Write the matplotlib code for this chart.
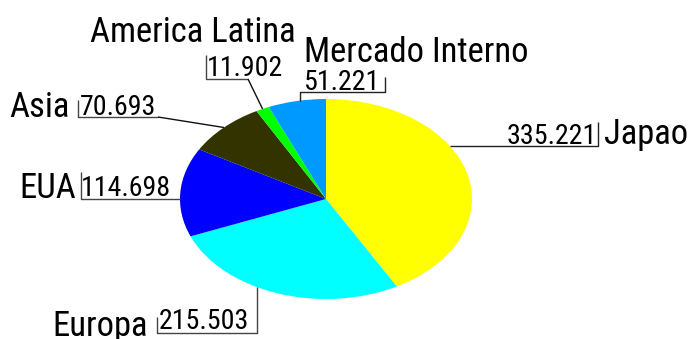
import matplotlib
matplotlib.use("Agg")
import matplotlib.pyplot as plt
from matplotlib import font_manager
from matplotlib.font_manager import FontProperties
import numpy as np

labels = ["Japao", "Europa", "EUA", "Asia", "America Latina", "Mercado Interno"]
values = [335.221, 215.503, 114.698, 70.693, 11.902, 51.221]
value_text = ["335.221", "215.503", "114.698", "70.693", "11.902", "51.221"]
colors = ["#FFFF00", "#00FFFF", "#0000FF", "#333300", "#00FF00", "#0099FF"]

# pick a condensed font if one is installed
files = [f.fname for f in font_manager.fontManager.ttflist]
pref = ["RobotoCondensed-Regular", "Roboto_Condensed-Regular", "RobotoCondensed-Light",
        "Roboto_Condensed-Light", "LiberationSansNarrow-Regular", "DejaVuSansCondensed.",
        "OpenSans_Condensed-Regular", "OpenSans_Condensed-Light"]
chosen = None
for p in pref:
    for fn in files:
        if p.lower() in fn.lower():
            chosen = fn
            break
    if chosen:
        break
FP = FontProperties(fname=chosen) if chosen else FontProperties(family="DejaVu Sans")

W, H = 689, 339
fig = plt.figure(figsize=(W / 100, H / 100), dpi=100)

x0, y0, x1, y1 = 180, 99, 472, 299
ax = fig.add_axes([x0 / W, (H - y1) / H, (x1 - x0) / W, (y1 - y0) / H])
ax.pie(values, colors=colors, startangle=90, counterclock=False, radius=1,
       wedgeprops=dict(linewidth=0))
ax.set_aspect("auto")
ax.set_xlim(-1, 1)
ax.set_ylim(-1, 1)
ax.axis("off")

ov = fig.add_axes([0, 0, 1, 1], zorder=5)
ov.set_xlim(0, W)
ov.set_ylim(H, 0)
ov.axis("off")
ov.patch.set_alpha(0)

cx, cy = (x0 + x1) / 2, (y0 + y1) / 2
rx, ry = (x1 - x0) / 2, (y1 - y0) / 2

def ellipse_x(y, side):
    return cx + side * rx * np.sqrt(max(0.0, 1 - ((y - cy) / ry) ** 2))

def ellipse_y(x, side):
    return cy + side * ry * np.sqrt(max(0.0, 1 - ((x - cx) / rx) ** 2))

total = sum(values)
mids = []
start = 90.0
for v in values:
    span = 360 * v / total
    mids.append(start - span / 2)
    start -= span

def mid_point(i):
    a = np.deg2rad(mids[i])
    return cx + rx * np.cos(a), cy - ry * np.sin(a)

# fit font sizes to reference text widths (pixels)
renderer = fig.canvas.get_renderer()
def width_at10(s):
    t = ov.text(0, 0, s, fontproperties=FP, fontsize=10)
    w = t.get_window_extent(renderer).width
    t.remove()
    return w

label_w = [79, 92, 56, 57, 192, 212]
num_w = [84, 84, 77, 76, 61, 60]
LS = 1.05 * 10 * sum(label_w) / sum(width_at10(s) for s in labels)
NS = 1.12 * 10 * sum(num_w) / sum(width_at10(s) for s in value_text)
LS = min(LS, 27)
NS = min(NS, 26)

LC = "#444444"
lw = 1.0

def line(xs, ys, c=LC):
    ov.plot(xs, ys, color=c, lw=lw, solid_capstyle="butt")

def txt(x, y, s, size, ha):
    ov.text(x, y, s, fontproperties=FP, fontsize=size, ha=ha, va="baseline", color="black")

# Japao
yb = 146
line([ellipse_x(yb, 1), 598, 598], [yb, yb, 122], c="#222222")
txt(597, 144, value_text[0], NS, "right")
txt(604, 144, labels[0], LS, "left")

# Europa
line([157, 157, 257, 257], [317, 333, 333, ellipse_y(257, 1)])
txt(159, 329, value_text[1], NS, "left")
txt(52, 336, labels[1], LS, "left")

# EUA
line([81, 81, ellipse_x(199, -1)], [172, 199, 199])
txt(81, 196, value_text[2], NS, "left")
txt(76, 198, labels[2], LS, "right")

# Asia
px, py = mid_point(3)
line([78, 78, 158], [100, 117, 117])
line([158, px], [117, py], c="#111111")
txt(80, 115, value_text[3], NS, "left")
txt(70, 117, labels[3], LS, "right")

# America Latina
px, py = mid_point(4)
line([206, 206, 248], [55, 79, 79])
line([248, px], [79, py], c="#111111")
txt(207, 76, value_text[4], NS, "left")
txt(90, 42, labels[4], LS, "left")

# Mercado Interno
line([300, 300, 385, 385], [ellipse_y(300, -1), 92, 92, 77], c="#222222")
txt(304, 90, value_text[5], NS, "left")
txt(304, 62, labels[5], LS, "left")

fig.savefig("out.png", dpi=100)
